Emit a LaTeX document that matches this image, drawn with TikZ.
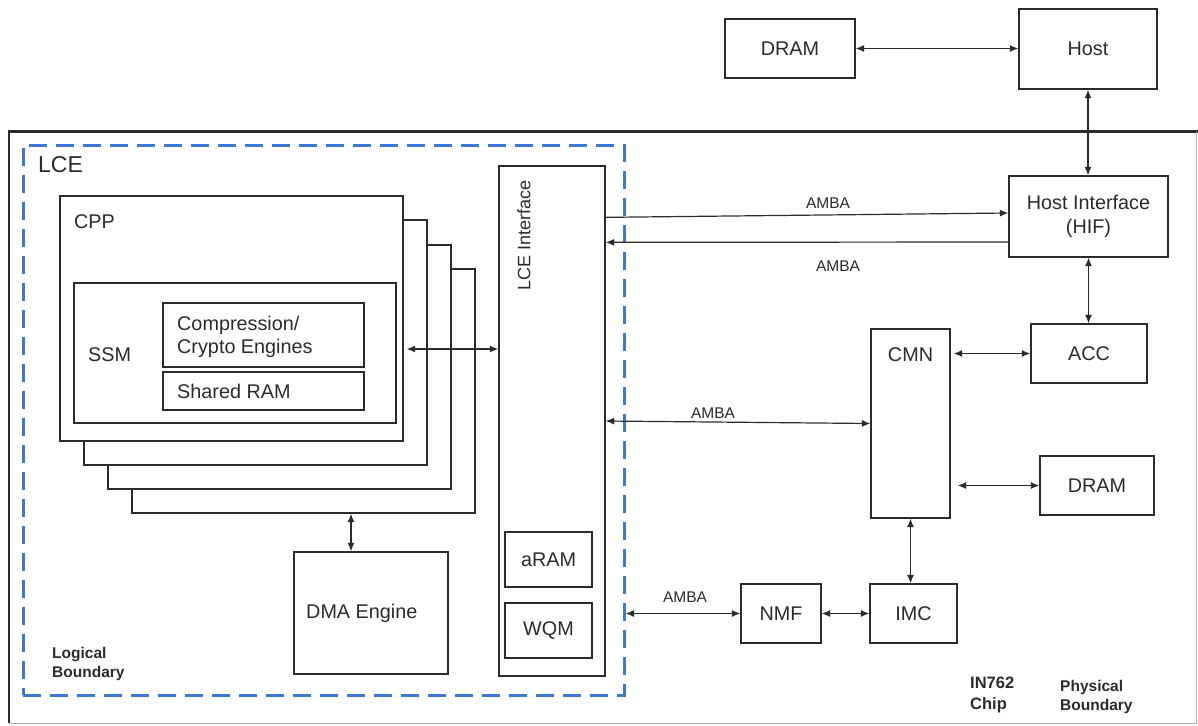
\documentclass[tikz,border=0pt]{standalone}
\usepackage{fontspec}
\setmainfont{Liberation Sans}
\usetikzlibrary{arrows.meta,calc}
\definecolor{lceblue}{HTML}{3C78D8}
\definecolor{ink}{HTML}{2B2B2B}
\begin{document}
\begin{tikzpicture}[x=1pt,y=-1pt,
  >={Latex[length=8.5pt,width=7pt]},
  box/.style={draw=ink, line width=1.3pt, fill=white, inner sep=0pt, text=ink,
    font=\fontsize{19.8}{23}\selectfont, align=center},
  lbl/.style={inner sep=0pt, text=ink, font=\fontsize{19.8}{23}\selectfont, align=left},
  amba/.style={inner sep=0pt, text=ink, font=\fontsize{15.5}{18}\selectfont},
  boldlbl/.style={inner sep=0pt, text=ink, font=\bfseries\fontsize{15.5}{19}\selectfont, align=left},
  conn/.style={draw=ink, line width=1.2pt}]
\useasboundingbox (0,0) rectangle (1198,725);

% chip (physical) boundary
\draw[line width=2.6pt, ink] (1198,131.5) -- (9,131.5) -- (9,723);
\draw[line width=1pt, black!30] (9,723.5) -- (1196.5,723.5) -- (1196.5,132);

% logical boundary (LCE)
\node[draw=lceblue, line width=3pt, dash pattern=on 18pt off 9pt, inner sep=0pt,
  minimum width=601pt, minimum height=550pt] (lceb) at (323.5,420) {};
\node[lbl, anchor=west, font=\fontsize{23}{26}\selectfont] (lcelbl) at (38,165) {LCE};

% outside the chip
\node[box, minimum width=130pt, minimum height=59pt] (dram1) at (790,48.5) {DRAM};
\node[box, minimum width=138pt, minimum height=80pt] (host) at (1088,49) {Host};

% chip blocks
\node[box, minimum width=159pt, minimum height=81pt, font=\fontsize{19.8}{24}\selectfont] (hif) at (1088.5,216.5) {Host Interface\\(HIF)};
\node[box, minimum width=116pt, minimum height=59pt] (acc) at (1089,353.5) {ACC};
\node[box, minimum width=79pt, minimum height=189pt] (cmn) at (910.5,423.5) {};
\node[lbl, anchor=north] (cmnlbl) at ($(cmn.north)+(0,19)$) {CMN};
\node[box, minimum width=114pt, minimum height=59pt] (dram2) at (1097,485.5) {DRAM};
\node[box, minimum width=87pt, minimum height=59pt] (imc) at (913.5,613.5) {IMC};
\node[box, minimum width=80pt, minimum height=59pt] (nmf) at (781,613.5) {NMF};

% LCE interface
\node[box, minimum width=106pt, minimum height=510pt] (lceif) at (552,421) {};
\node[lbl, rotate=90, font=\fontsize{18}{22}\selectfont] (lceiflbl) at (524,235) {LCE Interface};
\node[box, minimum width=87pt, minimum height=55pt] (aram) at (548.5,559.5) {aRAM};
\node[box, minimum width=87pt, minimum height=55pt] (wqm) at (548.5,630.5) {WQM};

% CPP stack
\node[box, minimum width=343pt, minimum height=244pt] (b4) at (303.5,391) {};
\node[box, minimum width=343pt, minimum height=244pt] (b3) at (279.5,367) {};
\node[box, minimum width=343pt, minimum height=245pt] (b2) at (255.5,342.5) {};
\node[box, minimum width=343pt, minimum height=245pt] (cpp) at (231.5,318.5) {};
\node[lbl, anchor=west] (cpplbl) at (74,222) {CPP};
\node[box, minimum width=322pt, minimum height=140pt] (ssm) at (235,353) {};
\node[lbl, anchor=west] (ssmlbl) at (88,355) {SSM};
\node[box, minimum width=201pt, minimum height=64pt] (comp) at (263.5,335) {};
\node[lbl, anchor=west] (complbl) at (177,336.5) {Compression/\\Crypto Engines};
\node[box, minimum width=201pt, minimum height=38pt] (sram) at (263.5,391) {};
\node[lbl, anchor=west] (sramlbl) at (177,391.5) {Shared RAM};

% DMA engine
\node[box, minimum width=154pt, minimum height=122pt] (dma) at (371,613) {};
\node[lbl, anchor=west] (dmalbl) at (306,613) {DMA Engine};

% text labels
\node[boldlbl, anchor=west] (logb) at (52,663.5) {Logical\\Boundary};
\node[boldlbl, anchor=west, font=\bfseries\fontsize{16.5}{21}\selectfont] (chipl) at (970,695) {IN762\\Chip};
\node[boldlbl, anchor=west] (physb) at (1060,696.5) {Physical\\Boundary};

% connectors
\coordinate (ycpp) at (0,349);
\draw[conn, <->] (dram1.east) -- (dram1.east -| host.west);
\draw[conn, <->] (host.south) -- (host.south |- hif.north);
\draw[conn, <->] (hif.south) -- (hif.south |- acc.north);
\draw[conn, <->, shorten <=3pt] (acc.west -| cmn.east) -- (acc.west);
\draw[conn, <->, shorten <=7pt] (dram2.west -| cmn.east) -- (dram2.west);
\draw[conn, <->] (imc.north -| cmn.south) -- (cmn.south);
\draw[conn, <->] (nmf.east) -- (imc.west);
\draw[conn, <->] (nmf.west -| lceb.east) -- (nmf.west);
\draw[conn, <->] (lceif.east) -- (cmn.west);
\draw[conn, ->] ($(lceif.north east)+(0,52)$) -- ($(hif.west)+(0,-3.5)$);
\draw[conn, ->] ($(hif.west)+(0,25.5)$) -- ($(lceif.north east)+(0,77)$);
\draw[conn, <->, shorten <=3pt] (cpp.east |- ycpp) -- (lceif.west |- ycpp);
\draw[conn, <->] ([xshift=-20pt]dma.north) -- ([xshift=-20pt]dma.north |- b4.south);

% AMBA labels
\node[amba] (amba1) at (828,203) {AMBA};
\node[amba] (amba2) at (838,266) {AMBA};
\node[amba] (amba3) at (713,413) {AMBA};
\node[amba] (amba4) at (685,597) {AMBA};
\end{tikzpicture}
\end{document}
